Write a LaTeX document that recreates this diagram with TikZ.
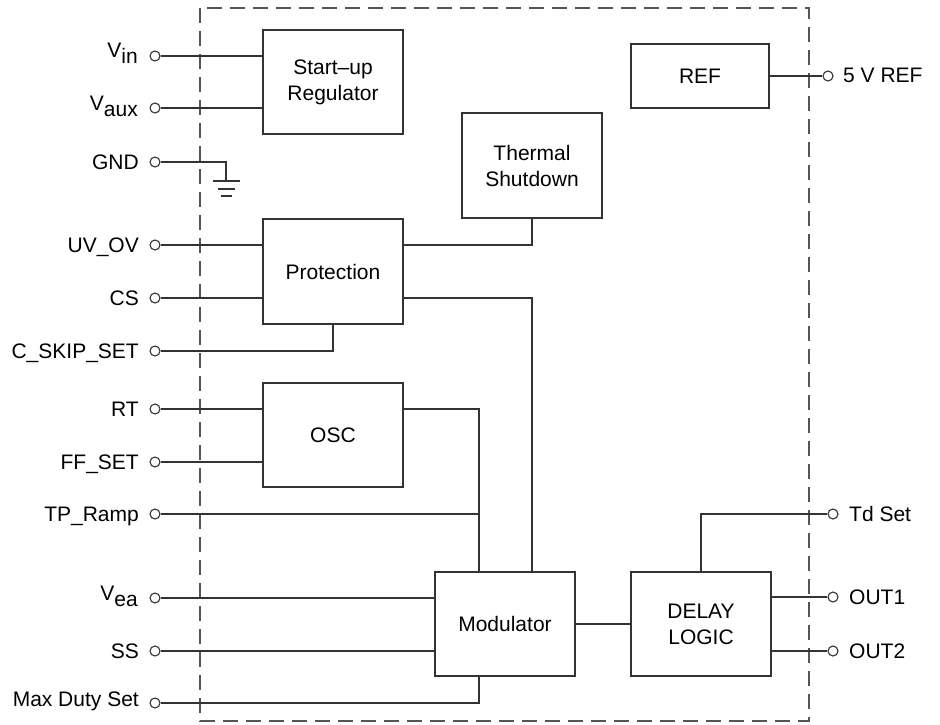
\documentclass[tikz,border=0pt]{standalone}
\usepackage{fontspec}
\setmainfont{Liberation Sans}
\definecolor{linec}{HTML}{333333}
\definecolor{dashc}{HTML}{555555}
\begin{document}
\begin{tikzpicture}[x=1pt,y=-1pt,
  blk/.style={draw=linec, line width=1.5pt, minimum width=140pt, minimum height=105pt, inner sep=0pt, align=center, font=\fontsize{21}{26}\selectfont},
  pin/.style={circle, draw=linec, line width=1.1pt, minimum size=10pt, inner sep=0pt, fill=white},
  lbl/.style={inner sep=0pt, font=\fontsize{21}{24}\selectfont},
  wire/.style={draw=linec, line width=1.5pt}]
\useasboundingbox (0,0) rectangle (940,725);
% frame
\draw[draw=dashc, line width=2pt, dash pattern=on 15pt off 8pt] (200,8) rectangle (809,721);
% blocks
\node[blk, minimum height=104pt] (su) at (333,82) {Start–up\\Regulator};
\node[blk, minimum width=138pt, minimum height=64pt] (ref) at (700,76) {REF};
\node[blk] (th) at (532,165.5) {Thermal\\Shutdown};
\node[blk] (prot) at (333,271.5) {Protection};
\node[blk, minimum height=104pt] (osc) at (333,435) {OSC};
\node[blk, minimum height=104pt] (mod) at (505,624) {Modulator};
\node[blk, minimum height=104pt] (dl) at (701,624) {DELAY\\LOGIC};
% pins left
\node[pin] (pVin) at (155,56) {};
\node[pin] (pVaux) at (155,108) {};
\node[pin] (pGND) at (155,162) {};
\node[pin] (pUV) at (155,245) {};
\node[pin] (pCS) at (155,298) {};
\node[pin] (pCSK) at (155,351) {};
\node[pin] (pRT) at (155,409) {};
\node[pin] (pFF) at (155,462) {};
\node[pin] (pTP) at (155,514) {};
\node[pin] (pVea) at (155,598) {};
\node[pin] (pSS) at (155,651) {};
\node[pin] (pMax) at (155,703) {};
% pins right
\node[pin] (pRef) at (828,76) {};
\node[pin] (pTd) at (833,514) {};
\node[pin] (pO1) at (833,597) {};
\node[pin] (pO2) at (833,651) {};
% labels left
\node[lbl, anchor=base east] (lVin) at (138,63) {\raisebox{5pt}{V}\raisebox{-1pt}{in}};
\node[lbl, anchor=base east] (lVaux) at (138,115) {\raisebox{5pt}{V}\raisebox{-1pt}{aux}};
\node[lbl, anchor=base east] (lGND) at (139,169) {GND};
\node[lbl, anchor=base east] (lUV) at (139,252) {UV\_OV};
\node[lbl, anchor=base east] (lCS) at (139,305) {CS};
\node[lbl, anchor=base east] (lCSK) at (139,358) {C\_SKIP\_SET};
\node[lbl, anchor=base east] (lRT) at (139,416) {RT};
\node[lbl, anchor=base east] (lFF) at (139,469) {FF\_SET};
\node[lbl, anchor=base east] (lTP) at (139,521) {TP\_Ramp};
\node[lbl, anchor=base east] (lVea) at (138,605) {\raisebox{5pt}{V}\raisebox{-1pt}{ea}};
\node[lbl, anchor=base east] (lSS) at (139,658) {SS};
\node[lbl, anchor=base east] (lMax) at (139,706) {Max Duty Set};
% labels right
\node[lbl, anchor=base west] (lRef) at (843,83) {5 V REF};
\node[lbl, anchor=base west] (lTd) at (849,521) {Td Set};
\node[lbl, anchor=base west] (lO1) at (849,604) {OUT1};
\node[lbl, anchor=base west] (lO2) at (849,658) {OUT2};
% wires
\draw[wire] (pVin) -- (pVin -| su.west);
\draw[wire] (pVaux) -- (pVaux -| su.west);
\coordinate (gnd) at (226,181);
\draw[wire] (pGND) -| (gnd);
\draw[wire] ([xshift=-13.5pt]gnd) -- ([xshift=13.5pt]gnd);
\draw[wire] ([xshift=-8.5pt,yshift=-8pt]gnd) -- ([xshift=8.5pt,yshift=-8pt]gnd);
\draw[wire] ([xshift=-5.5pt,yshift=-15pt]gnd) -- ([xshift=5.5pt,yshift=-15pt]gnd);
\draw[wire] (pUV) -- (pUV -| prot.west);
\draw[wire] (pCS) -- (pCS -| prot.west);
\draw[wire] (pCSK) -| (prot.south);
\draw[wire] (pUV -| prot.east) -| (th.south);
\draw[wire] (pCS -| prot.east) -| (th.south |- mod.north);
\draw[wire] (pRT) -- (pRT -| osc.west);
\draw[wire] (pFF) -- (pFF -| osc.west);
\coordinate (jx) at (479,0);
\draw[wire] (pRT -| osc.east) -| (jx |- mod.north);
\draw[wire] (pTP) -- (jx |- pTP);
\draw[wire] (pVea) -- (pVea -| mod.west);
\draw[wire] (pSS) -- (pSS -| mod.west);
\draw[wire] (pMax) -| (jx |- mod.south);
\draw[wire] (mod.east) -- (dl.west);
\draw[wire] (dl.north) |- (pTd);
\draw[wire] (pO1 -| dl.east) -- (pO1);
\draw[wire] (pO2 -| dl.east) -- (pO2);
\draw[wire] (ref.east) -- (pRef);
\end{tikzpicture}
\end{document}
